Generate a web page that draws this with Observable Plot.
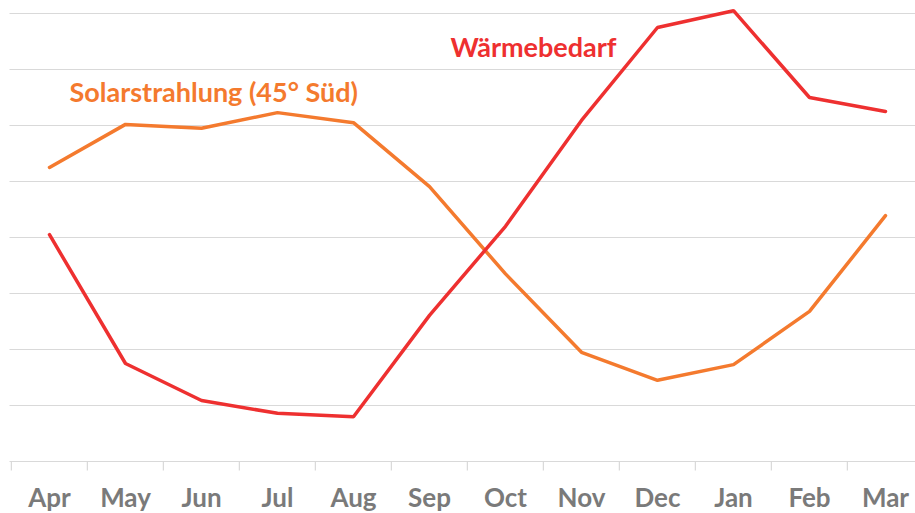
<!DOCTYPE html>
<html>
<head>
<meta charset="utf-8">
<script src="https://cdn.jsdelivr.net/npm/d3@7"></script>
<script src="https://cdn.jsdelivr.net/npm/@observablehq/plot@0.6"></script>
<style>
  html, body { margin: 0; padding: 0; background: #fff; }
  #chart svg { display: block; }
</style>
</head>
<body>
<div id="chart"></div>
<script>
const months = ["Apr","May","Jun","Jul","Aug","Sep","Oct","Nov","Dec","Jan","Feb","Mar"];
const waermebedarf = [4.05, 1.75, 1.09, 0.86, 0.80, 2.61, 4.20, 6.09, 7.75, 8.05, 6.50, 6.25];
const solarstrahlung = [5.25, 6.02, 5.95, 6.23, 6.05, 4.91, 3.35, 1.95, 1.45, 1.73, 2.68, 4.39];
const gridValues = [0, 1, 2, 3, 4, 5, 6, 7, 8];
const solarLabel = [{text: "Solarstrahlung (45° Süd)", month: "Apr", value: 6.57}];
const heatLabel = [{text: "Wärmebedarf", month: "Sep", value: 7.37}];

const red = "#EE3030";
const orange = "#F47A2E";

const heatData = months.map((m, i) => ({month: m, value: waermebedarf[i]}));
const solarData = months.map((m, i) => ({month: m, value: solarstrahlung[i]}));

const chart = Plot.plot({
  width: 915,
  height: 513,
  marginLeft: 9.5,
  marginRight: 0,
  marginTop: 13,
  marginBottom: 52,
  style: {fontFamily: "Lato, 'Open Sans', sans-serif", background: "#fff"},
  x: {type: "band", domain: months, range: [9.5, 925], padding: 0},
  y: {domain: [0, 8], axis: null},
  marks: [
    Plot.ruleY(gridValues, {stroke: "#d9d9d9", strokeWidth: 1.2}),
    Plot.ruleX(months, {x: d => d, dx: -38.15, y1: 0, y2: -0.17, stroke: "#d9d9d9", strokeWidth: 1.2}),
    Plot.axisX({tickSize: 0, tickPadding: 27.5, fontSize: 26, fontWeight: "bold", fill: "#7a7a7a", label: null}),
    Plot.line(solarData, {x: "month", y: "value", stroke: orange, strokeWidth: 3.5, strokeLinejoin: "miter"}),
    Plot.line(heatData, {x: "month", y: "value", stroke: red, strokeWidth: 3.5, strokeLinejoin: "miter"}),
    Plot.text(solarLabel, {x: "month", y: "value", text: "text", fill: orange, dx: 20, textAnchor: "start", fontSize: 27, fontWeight: "bold"}),
    Plot.text(heatLabel, {x: "month", y: "value", text: "text", fill: red, dx: 21, textAnchor: "start", fontSize: 27, fontWeight: "bold"})
  ]
});
document.getElementById("chart").append(chart);
</script>
</body>
</html>
